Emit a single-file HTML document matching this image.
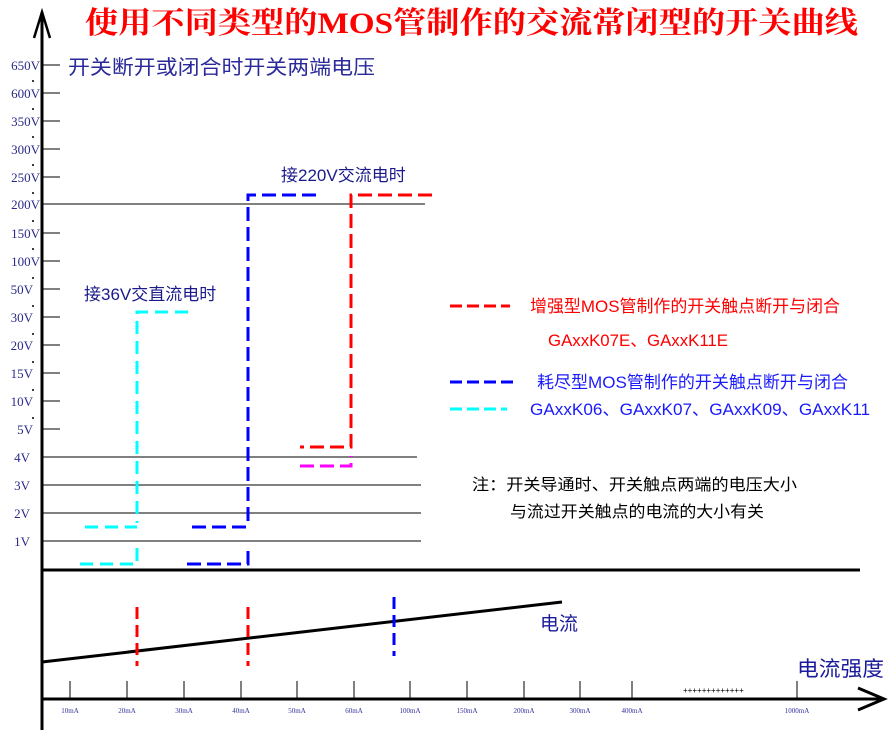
<!DOCTYPE html>
<html><head><meta charset="utf-8"><style>
body{margin:0;background:#fff;}
svg{display:block;}
.yl{font-family:"Liberation Serif","Noto Serif CJK SC",serif;font-size:13px;fill:#2a2a8a;text-anchor:end;}
.xl{font-family:"Liberation Serif",serif;font-size:7px;fill:#3030a0;text-anchor:middle;}
.cj{font-family:"Liberation Sans","Noto Sans CJK SC",sans-serif;}
</style></head><body>
<svg width="891" height="730" viewBox="0 0 891 730" xmlns="http://www.w3.org/2000/svg">
<rect width="891" height="730" fill="#fff"/>
<text x="85" y="33" font-family="'Liberation Serif','Noto Serif CJK SC',serif" font-size="30" font-weight="bold" fill="#ff0000" textLength="773" lengthAdjust="spacingAndGlyphs">使用不同类型的MOS管制作的交流常闭型的开关曲线</text>
<text x="68" y="74" class="cj" font-size="20" fill="#2a2a9a" textLength="307" lengthAdjust="spacingAndGlyphs">开关断开或闭合时开关两端电压</text>
<line x1="42" y1="12" x2="42" y2="730" stroke="#000" stroke-width="3"/>
<polyline points="34,38 42,12 50,38" fill="none" stroke="#000" stroke-width="2.5"/>
<g stroke="#000" stroke-width="1">
<line x1="42" y1="65" x2="60" y2="65"/><line x1="42" y1="93" x2="60" y2="93"/><line x1="42" y1="121" x2="60" y2="121"/>
<line x1="42" y1="149" x2="60" y2="149"/><line x1="42" y1="177" x2="60" y2="177"/><line x1="42" y1="204" x2="425" y2="204"/>
<line x1="42" y1="233" x2="60" y2="233"/><line x1="42" y1="261" x2="60" y2="261"/><line x1="42" y1="289" x2="60" y2="289"/>
<line x1="42" y1="317" x2="60" y2="317"/><line x1="42" y1="345" x2="60" y2="345"/><line x1="42" y1="373" x2="60" y2="373"/>
<line x1="42" y1="401" x2="60" y2="401"/><line x1="42" y1="429" x2="60" y2="429"/>
<line x1="42" y1="457" x2="417" y2="457"/><line x1="42" y1="485" x2="421" y2="485"/>
<line x1="42" y1="513" x2="421" y2="513"/><line x1="42" y1="541" x2="421" y2="541"/>
</g>
<g class="yl">
<text x="40" y="70">650V</text><text x="40" y="98">600V</text><text x="40" y="126">350V</text><text x="40" y="154">300V</text>
<text x="40" y="182">250V</text><text x="40" y="209">200V</text><text x="40" y="238">150V</text><text x="40" y="266">100V</text>
<text x="33" y="294">50V</text><text x="33" y="322">30V</text><text x="33" y="350">20V</text><text x="33" y="378">15V</text>
<text x="33" y="406">10V</text><text x="33" y="434">5V</text><text x="30" y="462">4V</text><text x="30" y="490">3V</text>
<text x="30" y="518">2V</text><text x="30" y="546">1V</text>
</g>
<g fill="#000"><circle cx="33" cy="81" r="1"/><circle cx="33" cy="109" r="1"/><circle cx="33" cy="137" r="1"/><circle cx="33" cy="165" r="1"/><circle cx="33" cy="193" r="1"/><circle cx="33" cy="221" r="1"/><circle cx="33" cy="249" r="1"/><circle cx="33" cy="278" r="1"/><circle cx="33" cy="306" r="1"/><circle cx="33" cy="334" r="1"/><circle cx="33" cy="362" r="1"/><circle cx="33" cy="390" r="1"/><circle cx="33" cy="418" r="1"/></g>
<line x1="42" y1="570" x2="860" y2="570" stroke="#000" stroke-width="3"/>
<text x="84" y="300" class="cj" font-size="17" fill="#1a1a8a">接36V交直流电时</text>
<text x="281" y="181" class="cj" font-size="17" fill="#1a1a8a">接220V交流电时</text>
<g fill="none" stroke-width="3" stroke-dasharray="14,6">
<path d="M188,312 H137 V523" stroke="#00ffff" stroke-dasharray="13,7"/>
<path d="M85,527 H137" stroke="#00ffff" stroke-dasharray="13,7"/>
<path d="M80,564 H137 V548" stroke="#00ffff" stroke-dasharray="13,7"/>
<path d="M316,195 H248 V525" stroke="#0000ff"/>
<path d="M192,527 H248" stroke="#0000ff"/>
<path d="M187,564 H248 V548" stroke="#0000ff"/>
<path d="M432,195 H351 V447 H300" stroke="#ff0000"/>
<path d="M300,466 H351 V456" stroke="#ff00ff"/>
<path d="M450,306 H510" stroke="#ff0000" stroke-dasharray="12,5"/>
<path d="M450,382 H515" stroke="#0000ff" stroke-dasharray="12,5"/>
<path d="M450,409 H507" stroke="#00ffff" stroke-dasharray="12,5"/>
</g>
<g class="cj" font-size="17">
<text x="530" y="312" fill="#ff0000" textLength="310" lengthAdjust="spacingAndGlyphs">增强型MOS管制作的开关触点断开与闭合</text>
<text x="548" y="346" fill="#ff0000" textLength="180" lengthAdjust="spacingAndGlyphs">GAxxK07E、GAxxK11E</text>
<text x="537" y="388" fill="#1a1aff" textLength="311" lengthAdjust="spacingAndGlyphs">耗尽型MOS管制作的开关触点断开与闭合</text>
<text x="530" y="415" fill="#1a1aff" textLength="340" lengthAdjust="spacingAndGlyphs">GAxxK06、GAxxK07、GAxxK09、GAxxK11</text>
<text x="472" y="490" fill="#000" font-size="16" textLength="325" lengthAdjust="spacingAndGlyphs">注：开关导通时、开关触点两端的电压大小</text>
<text x="510" y="517" fill="#000" font-size="16" textLength="254" lengthAdjust="spacingAndGlyphs">与流过开关触点的电流的大小有关</text>
</g>
<line x1="42" y1="662" x2="562" y2="602" stroke="#000" stroke-width="3"/>
<g fill="none" stroke-width="3" stroke-dasharray="12,6">
<line x1="137" y1="607" x2="137" y2="666" stroke="#ff0000"/>
<line x1="248" y1="607" x2="248" y2="666" stroke="#ff0000"/>
<line x1="394" y1="597" x2="394" y2="656" stroke="#0000ff"/>
</g>
<text x="540" y="630" class="cj" font-size="19" fill="#1a1a9a">电流</text>
<text x="797" y="676" class="cj" font-size="21" fill="#1a1a9a" textLength="87" lengthAdjust="spacingAndGlyphs">电流强度</text>
<line x1="42" y1="699" x2="884" y2="699" stroke="#000" stroke-width="3"/>
<polyline points="858,688 884,699 858,710" fill="none" stroke="#000" stroke-width="3"/>
<g stroke="#000" stroke-width="1">
<line x1="70" y1="681" x2="70" y2="699"/><line x1="127" y1="681" x2="127" y2="699"/><line x1="184" y1="681" x2="184" y2="699"/>
<line x1="241" y1="681" x2="241" y2="699"/><line x1="297" y1="681" x2="297" y2="699"/><line x1="354" y1="681" x2="354" y2="699"/>
<line x1="410" y1="681" x2="410" y2="699"/><line x1="467" y1="681" x2="467" y2="699"/><line x1="524" y1="681" x2="524" y2="699"/>
<line x1="580" y1="681" x2="580" y2="699"/><line x1="632" y1="681" x2="632" y2="699"/><line x1="797" y1="681" x2="797" y2="699"/>
</g>
<text x="683" y="693" font-family="Liberation Sans" font-size="8" fill="#000">+++++++++++++</text>
<g class="xl">
<text x="70" y="713">10mA</text><text x="127" y="713">20mA</text><text x="184" y="713">30mA</text><text x="241" y="713">40mA</text>
<text x="297" y="713">50mA</text><text x="354" y="713">60mA</text><text x="410" y="713">100mA</text><text x="467" y="713">150mA</text>
<text x="524" y="713">200mA</text><text x="580" y="713">300mA</text><text x="632" y="713">400mA</text><text x="797" y="713">1000mA</text>
</g>
</svg>
</body></html>
